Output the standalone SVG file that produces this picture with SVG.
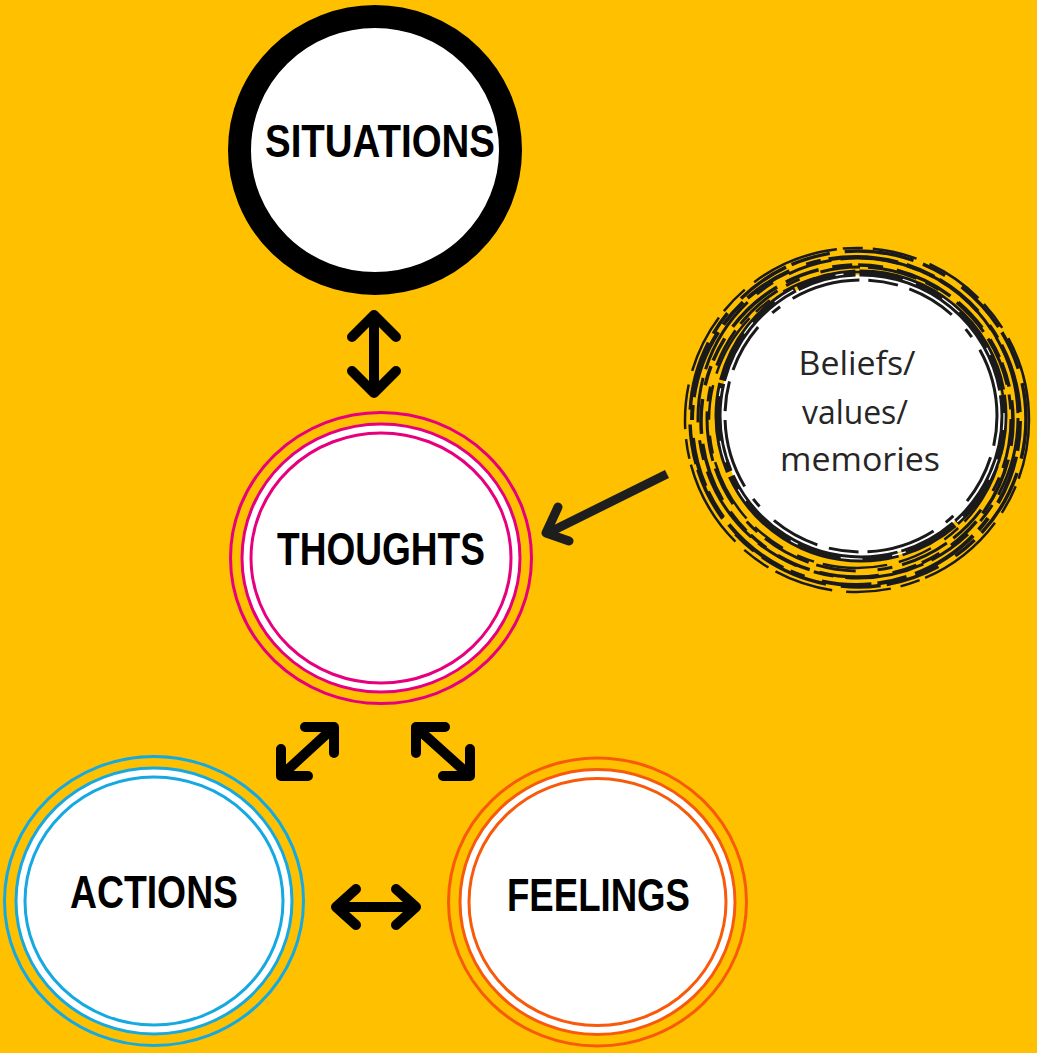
<svg xmlns="http://www.w3.org/2000/svg" width="1037" height="1053" viewBox="0 0 1037 1053">
<style>
.bg{fill:#FFC000}
.lbl{font-family:"Liberation Sans",Arial,sans-serif;font-weight:bold;font-size:46px;fill:#000;text-anchor:middle}
.blt{font-family:"Open Sans","Noto Sans","Liberation Sans",sans-serif;font-size:33px;fill:#262626;text-anchor:middle}
.arr{fill:none;stroke:#000;stroke-width:10;stroke-linecap:round;stroke-linejoin:round}
.ring{fill:none;stroke-width:3}
.pk{stroke:#E6007E}
.bl{stroke:#16A9E1}
.or{stroke:#F85A0C}
.br{fill:none;stroke:#1a1a1a}
</style>
<rect class="bg" x="0" y="0" width="1037" height="1053"/>

<g id="situations">
<ellipse cx="375" cy="150" rx="135.5" ry="133.5" fill="#fff" stroke="#000" stroke-width="23"/>
<text class="lbl" x="380" y="157" textLength="230" lengthAdjust="spacingAndGlyphs">SITUATIONS</text>
</g>

<g id="thoughts">
<ellipse cx="381" cy="558" rx="139" ry="134" fill="#fff" class="pk" stroke-width="3"/>
<ellipse class="ring pk" cx="381" cy="558" rx="150.5" ry="145.5"/>
<ellipse class="ring pk" cx="381" cy="558" rx="130" ry="125"/>
<text class="lbl" x="381" y="565" textLength="208" lengthAdjust="spacingAndGlyphs">THOUGHTS</text>
</g>

<g id="actions">
<ellipse cx="154" cy="901" rx="138" ry="133" fill="#fff" class="bl" stroke-width="3"/>
<ellipse class="ring bl" cx="154" cy="901" rx="149.5" ry="144.5"/>
<ellipse class="ring bl" cx="154" cy="901" rx="129" ry="124"/>
<text class="lbl" x="154" y="908" textLength="168" lengthAdjust="spacingAndGlyphs">ACTIONS</text>
</g>

<g id="feelings">
<ellipse cx="597.5" cy="902" rx="137.5" ry="132.5" fill="#fff" class="or" stroke-width="3"/>
<ellipse class="ring or" cx="597.5" cy="902" rx="149" ry="144"/>
<ellipse class="ring or" cx="597.5" cy="902" rx="128.5" ry="123.5"/>
<text class="lbl" x="598.5" y="911" textLength="183" lengthAdjust="spacingAndGlyphs">FEELINGS</text>
</g>

<g id="beliefs">
<circle class="br" cx="857" cy="420" r="172" stroke-width="2.5" stroke-dasharray="60 8 30 12 90 6 20 10 45 14"/>
<circle class="br" cx="858" cy="419" r="168" stroke-width="3.5" stroke-dasharray="40 15 70 10 25 20 55 6"/>
<circle class="br" cx="856" cy="421" r="164" stroke-width="4" stroke-dasharray="30 6 50 18 15 8 70 9"/>
<circle class="br" cx="858" cy="418" r="160" stroke-width="3" stroke-dasharray="80 12 20 18 45 9"/>
<circle class="br" cx="857" cy="421" r="156" stroke-width="3.5" stroke-dasharray="25 14 60 10 35 14 20 6"/>
<circle class="br" cx="859" cy="419" r="152" stroke-width="3" stroke-dasharray="50 10 15 22 40 8"/>
<circle class="br" cx="857" cy="420" r="148" stroke-width="2.5" stroke-dasharray="35 12 65 9 18 16"/>
<circle cx="861" cy="416" r="141" fill="#fff"/>
<circle class="br" cx="861" cy="416" r="143" stroke-width="7" stroke-dasharray="120 3 60 4 200 5 90 3"/>
<circle class="br" cx="861" cy="416" r="136" stroke-width="3" stroke-dasharray="30 12 50 20 10 15 70 9"/>
<circle fill="none" stroke="#fff" stroke-width="1.2" cx="861" cy="416" r="143" stroke-dasharray="14 30 22 45 8 60"/>
<text class="blt" x="857" y="375" textLength="117" lengthAdjust="spacingAndGlyphs">Beliefs/</text>
<text class="blt" x="855" y="424" textLength="106" lengthAdjust="spacingAndGlyphs">values/</text>
<text class="blt" x="860" y="471" textLength="160" lengthAdjust="spacingAndGlyphs">memories</text>
</g>

<g id="connectors">
<path class="arr" d="M374,318 V392 M352,337 L374,315 L396,337 M352,371 L374,393 L396,371"/>
<path class="arr" d="M332,729 L283,774 M305,727 L334,727 L334,753 M281,749 L281,776 L308,776"/>
<path class="arr" d="M418,729 L468,774 M445,727 L416,727 L416,753 M470,749 L470,776 L443,776"/>
<path class="arr" d="M338,907 H414 M356,889 L336,907 L356,925 M396,889 L416,907 L396,925"/>
<path d="M667,474 L550,532" fill="none" stroke="#1e1e1e" stroke-width="9"/>
<path d="M558,507 L546,533 L569,541" fill="none" stroke="#1e1e1e" stroke-width="9" stroke-linecap="round" stroke-linejoin="round"/>
</g>
</svg>
